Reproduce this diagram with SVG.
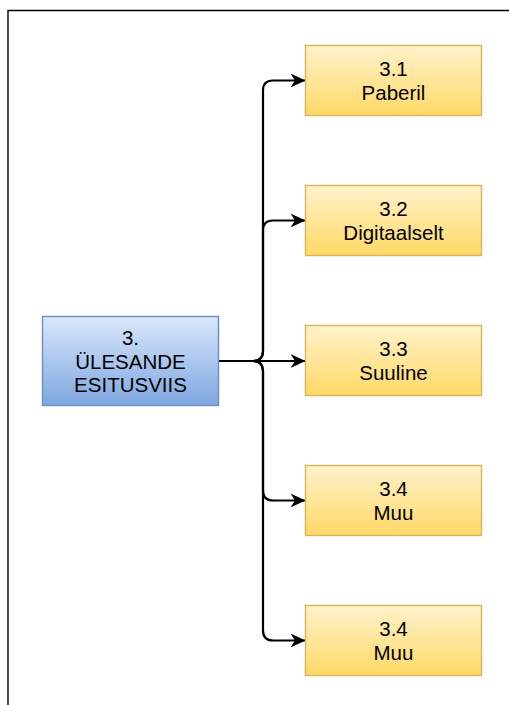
<svg xmlns="http://www.w3.org/2000/svg" width="509" height="705" viewBox="0 0 509 705">
  <defs>
    <linearGradient id="gBlue" x1="0" y1="0" x2="0" y2="1">
      <stop offset="0" stop-color="#dae8fc"/>
      <stop offset="1" stop-color="#7ea6e0"/>
    </linearGradient>
    <linearGradient id="gYellow" x1="0" y1="0" x2="0" y2="1">
      <stop offset="0" stop-color="#fff2cc"/>
      <stop offset="1" stop-color="#ffd966"/>
    </linearGradient>
    <marker id="arrow" viewBox="0 0 15 14" refX="14.5" refY="7" markerWidth="15" markerHeight="14" markerUnits="userSpaceOnUse" orient="auto">
      <path d="M0,0 L15,7 L0,14 L4.5,7 Z" fill="#000"/>
    </marker>
    <style>
      .lbl { font-family: "Liberation Sans", Arial, sans-serif; font-size: 20.5px; fill: #000; text-anchor: middle; }
      .blue { fill: url(#gBlue); stroke: #6c8ebf; stroke-width: 1.4; }
      .yellow { fill: url(#gYellow); stroke: #d6b656; stroke-width: 1.4; }
      .edge { fill: none; stroke: #000; stroke-width: 2.2; marker-end: url(#arrow); }
    </style>
  </defs>

  <rect width="509" height="705" fill="#fff"/>
  <!-- outer frame -->
  <path d="M8,720 L8,10.5 L520,10.5" fill="none" stroke="#000" stroke-width="1.4"/>

  <g id="connectors">
    <path class="edge" d="M218,361 L253,361 Q263,361 263,351 L263,90.5 Q263,80.5 273,80.5 L305,80.5"/>
    <path class="edge" d="M218,361 L253,361 Q263,361 263,351 L263,230.5 Q263,220.5 273,220.5 L305,220.5"/>
    <path class="edge" d="M218,361 L305,361"/>
    <path class="edge" d="M218,361 L253,361 Q263,361 263,371 L263,490.5 Q263,500.5 273,500.5 L305,500.5"/>
    <path class="edge" d="M218,361 L253,361 Q263,361 263,371 L263,630.5 Q263,640.5 273,640.5 L305,640.5"/>
  </g>

  <g id="node-main">
    <rect class="blue" x="42.5" y="316.5" width="176" height="89"/>
    <text class="lbl" x="130.5" y="345">3.</text>
    <text class="lbl" x="130.5" y="368.7">ÜLESANDE</text>
    <text class="lbl" x="130.5" y="392.4">ESITUSVIIS</text>
  </g>

  <g id="node-3-1">
    <rect class="yellow" x="305.5" y="45.5" width="176" height="70"/>
    <text class="lbl" x="393.5" y="75.5">3.1</text>
    <text class="lbl" x="393.5" y="100">Paberil</text>
  </g>

  <g id="node-3-2">
    <rect class="yellow" x="305.5" y="185.5" width="176" height="70"/>
    <text class="lbl" x="393.5" y="215.5">3.2</text>
    <text class="lbl" x="393.5" y="240">Digitaalselt</text>
  </g>

  <g id="node-3-3">
    <rect class="yellow" x="305.5" y="325.5" width="176" height="70"/>
    <text class="lbl" x="393.5" y="355.5">3.3</text>
    <text class="lbl" x="393.5" y="380">Suuline</text>
  </g>

  <g id="node-3-4a">
    <rect class="yellow" x="305.5" y="465.5" width="176" height="70"/>
    <text class="lbl" x="393.5" y="495.5">3.4</text>
    <text class="lbl" x="393.5" y="520">Muu</text>
  </g>

  <g id="node-3-4b">
    <rect class="yellow" x="305.5" y="605.5" width="176" height="70"/>
    <text class="lbl" x="393.5" y="635.5">3.4</text>
    <text class="lbl" x="393.5" y="660">Muu</text>
  </g>
</svg>
